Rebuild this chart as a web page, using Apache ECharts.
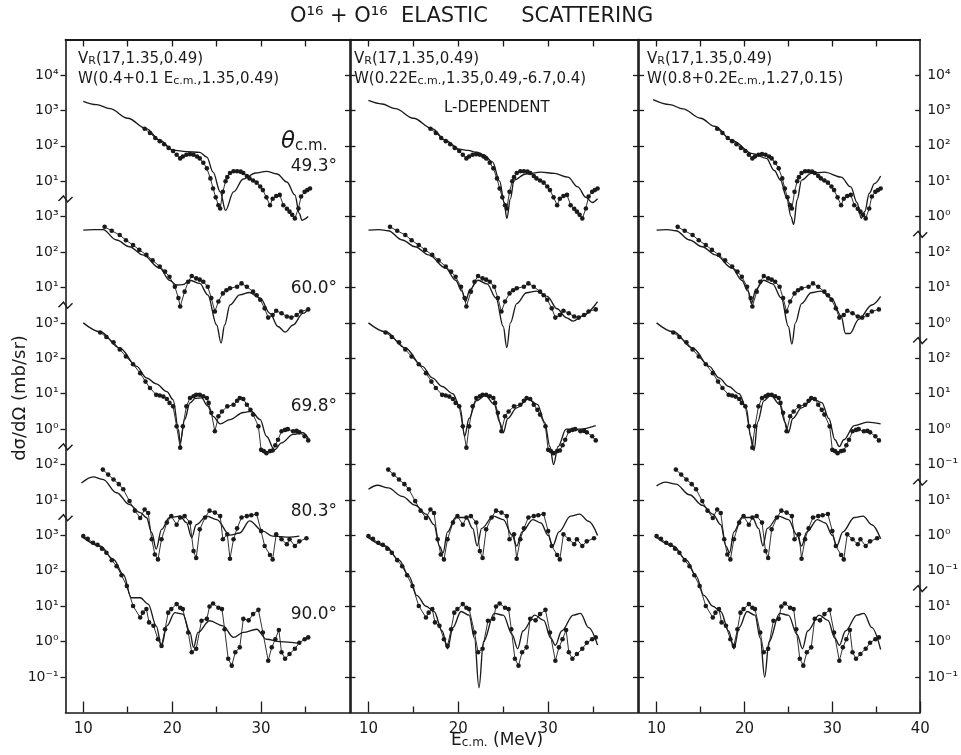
<!DOCTYPE html>
<html><head><meta charset="utf-8">
<script src="https://cdn.jsdelivr.net/npm/echarts@6/dist/echarts.min.js"></script>
<style>html,body{margin:0;padding:0;background:#fff}#c{width:961px;height:755px}</style>
</head><body><div id="c"></div>
<script>
// ---------- DATA (E c.m. in MeV, dsigma/dOmega in mb/sr, left-axis scale) ----------
const angleLabels = ['49.3°', '60.0°', '69.8°', '80.3°', '90.0°'];
const xMajorTicks = [10, 20, 30];
const xMinorTicks = [15, 25, 35];
const xMajorTicksLast = [10, 20, 30, 40];
const xTopTicks = [10, 15, 20, 25, 30, 35];
// y tick labels, top to bottom (one per decade line)
const leftTickLabels  = ['10⁴','10³','10²','10¹','10³','10²','10¹','10³','10²','10¹','10⁰','10²','10¹','10³','10²','10¹','10⁰','10⁻¹'];
const rightTickLabels = ['10⁴','10³','10²','10¹','10⁰','10²','10¹','10⁰','10²','10¹','10⁰','10⁻¹','10¹','10⁰','10⁻¹','10¹','10⁰','10⁻¹'];

// experimental data (same in all three panels)
const exp49 = [[16.9,302],[17.5,229],[18.1,166],[18.6,135],[19.1,110],[19.6,87],[20.1,71],[20.5,56],[20.9,44],[21.2,50],[21.6,56],[22.0,58],[22.4,56],[22.8,50],[23.1,44],[23.5,33],[23.9,23],[24.3,12],[24.6,6.2],[24.9,3.5],[25.2,2.1],[25.4,1.7],[25.7,5.0],[26.0,10],[26.2,13],[26.5,17],[26.9,19],[27.3,19],[27.7,18.6],[28.0,17],[28.4,14],[28.7,12],[29.1,10.5],[29.5,9.1],[29.9,7.1],[30.2,5.6],[30.6,3.5],[31.0,2.1],[31.3,3.2],[31.7,3.8],[32.1,4.1],[32.5,2.1],[32.9,1.66],[33.2,1.38],[33.5,1.12],[33.8,0.89],[34.2,1.7],[34.5,3.7],[34.9,5.0],[35.2,5.6],[35.5,6.2]];
const exp60 = [[12.4,513],[13.2,398],[14.1,302],[14.8,214],[15.6,158],[16.3,115],[17.1,83],[17.8,58],[18.6,39],[19.2,28],[19.7,20],[20.3,10.5],[20.7,5.0],[20.9,2.9],[21.4,7.6],[21.8,14.5],[22.2,21],[22.7,18],[23.1,16.6],[23.5,14.5],[24.0,10.5],[24.4,5.0],[24.8,2.1],[25.2,4.0],[25.7,6.8],[26.1,8.3],[26.5,9.5],[27.3,10.5],[27.8,13],[28.4,10.5],[29.1,7.6],[29.5,6.0],[29.9,4.5],[30.4,2.57],[30.8,1.41],[31.3,1.66],[31.7,2.2],[32.3,1.86],[32.9,1.51],[33.4,1.41],[34.0,1.66],[34.5,2.1],[35.3,2.4]];
const exp70 = [[11.9,537],[12.6,398],[13.4,282],[14.1,178],[14.8,112],[15.6,68],[16.4,38],[17.0,22],[17.5,14.5],[18.2,9.3],[18.6,8.9],[19.0,8.3],[19.4,7.1],[19.7,5.5],[20.1,4.4],[20.5,1.2],[20.9,0.3],[21.2,1.2],[21.6,4.4],[22.0,7.6],[22.4,8.5],[22.7,9.3],[23.1,9.3],[23.5,8.5],[23.9,7.6],[24.1,5.5],[24.4,2.9],[24.8,0.87],[25.2,2.3],[25.6,3.16],[26.2,4.4],[26.9,4.9],[27.3,6.3],[27.6,7.6],[28.0,7.1],[28.4,4.9],[28.8,3.5],[29.1,2.57],[29.7,1.2],[30.0,0.26],[30.3,0.24],[30.6,0.21],[31.0,0.24],[31.3,0.25],[31.6,0.35],[31.9,0.5],[32.3,0.87],[32.7,0.95],[33.0,1.0],[33.6,0.87],[34.0,0.89],[34.3,0.81],[34.9,0.63],[35.3,0.48]];
const exp80 = [[12.2,72],[12.8,52],[13.4,38],[14.0,28],[14.5,20],[15.2,9.3],[15.8,5.0],[16.4,3.1],[16.9,5.4],[17.3,4.3],[17.7,0.78],[18.05,0.29],[18.4,0.21],[18.8,0.78],[19.4,2.3],[19.9,3.5],[20.5,2.0],[20.9,3.2],[21.4,3.5],[22.0,2.3],[22.4,0.36],[22.7,0.23],[23.1,1.48],[23.7,3.2],[24.2,5.0],[24.8,4.4],[25.4,3.5],[25.7,0.78],[26.2,1.07],[26.5,0.22],[26.9,0.78],[27.3,1.58],[27.8,3.2],[28.4,3.5],[28.9,3.7],[29.5,4.0],[30.0,1.32],[30.4,0.5],[31.0,0.28],[31.3,0.21],[31.7,1.07],[32.3,0.78],[32.9,0.56],[33.2,0.78],[33.8,0.5],[34.3,0.68],[35.1,0.83]];
const exp90 = [[10.0,955],[10.5,800],[11.1,617],[11.6,540],[12.1,420],[12.6,324],[13.2,200],[13.75,135],[14.3,75],[14.9,37],[15.6,10.2],[16.4,4.8],[16.7,6.6],[17.1,8.3],[17.4,3.5],[17.9,2.8],[18.4,1.17],[18.8,0.76],[19.2,2.24],[19.55,6.6],[19.9,8.3],[20.5,11.5],[20.9,9.1],[21.2,8.3],[21.8,1.82],[22.2,0.5],[22.7,0.63],[23.3,3.9],[23.9,4.4],[24.2,9.8],[24.6,12],[25.2,9.1],[25.6,8.3],[25.9,2.24],[26.3,0.33],[26.7,0.21],[27.1,0.5],[27.6,0.69],[28.0,4.4],[28.6,4.0],[29.1,6.0],[29.7,7.9],[30.2,1.82],[30.8,0.29],[31.2,0.69],[31.6,1.17],[32.0,2.14],[32.3,0.5],[32.7,0.33],[33.2,0.45],[33.8,0.63],[34.3,0.93],[34.9,1.17],[35.3,1.32]];

// optical-model curves, panel 1
const th1_49 = [[10,1800],[11.5,1450],[13,1120],[15,600],[17.1,302],[18.6,143],[20.1,75],[21.6,68],[23.1,65],[23.9,48],[24.6,18],[25.4,5.0],[26.0,1.5],[26.9,5.0],[28.0,11.5],[29.4,17],[30.6,19],[31.8,16],[32.9,9.5],[33.8,4.1],[34.3,1.23],[34.6,0.79],[35.3,1.0]];
const th1_60 = [[10,417],[11.2,430],[12.2,427],[13.75,219],[15.2,141],[16.7,83],[18.6,35],[19.7,16],[20.5,11.7],[21.2,12],[22.0,16],[23.1,13],[24.0,6.2],[25.0,0.87],[25.5,0.27],[25.9,0.87],[26.5,3.2],[27.6,6.2],[28.7,7.2],[29.9,5.0],[31.0,1.86],[31.9,0.79],[32.7,0.55],[33.6,0.87],[34.7,1.86],[35.4,2.57]];
const th1_70 = [[10,1000],[11.9,562],[14.1,195],[16.0,59],[17.1,28],[18.2,19],[19.4,11.5],[20.1,6.8],[20.7,0.98],[20.9,0.41],[21.4,1.86],[22.0,5.5],[22.6,7.4],[23.3,7.6],[24.0,4.5],[24.6,2.3],[25.4,1.41],[26.5,1.86],[28.0,2.95],[28.9,3.16],[29.9,1.86],[30.6,0.63],[31.5,0.26],[32.3,0.41],[33.6,0.71],[34.7,0.79],[35.3,0.56]];
const th1_80 = [[9.8,30],[11.1,45],[12.2,38],[13.75,16],[15.2,7.4],[16.4,4.4],[17.1,3.2],[17.7,1.2],[18.2,0.41],[18.8,1.48],[19.7,3.2],[20.9,3.5],[21.6,2.3],[22.2,0.87],[22.7,2.0],[23.9,3.5],[25.0,2.8],[26.5,1.02],[27.6,1.17],[28.7,2.57],[30.2,1.32],[31.3,0.95],[33.2,0.89],[34.3,0.95]];
const th1_90 = [[9.8,955],[11.9,501],[13.4,209],[14.5,79],[15.4,17.4],[16.4,17.4],[17.3,11.5],[18.2,2.8],[18.8,0.76],[19.4,2.8],[20.3,6.6],[21.2,6.0],[22.0,1.82],[22.4,0.69],[22.9,1.82],[24.2,3.9],[25.7,2.8],[26.9,1.32],[28.0,1.82],[29.5,2.24],[30.6,1.17],[32.1,1.0],[34.3,0.89]];
// panel 2 (L-dependent)
const th2_49 = [[10,1900],[11.5,1510],[13,1120],[15,600],[17.1,302],[18.6,141],[20.1,80],[21.1,74],[22.0,66],[22.8,56],[23.8,35],[24.6,10],[25.1,2.5],[25.4,0.89],[25.8,3.2],[26.2,10.7],[27.5,16],[29.2,18],[30.7,16.6],[32.2,13],[33.3,6.9],[34.2,3.5],[34.9,2.5],[35.5,3.2]];
const th2_60 = [[10,417],[11.2,430],[12.2,400],[13.75,219],[15.2,141],[16.7,83],[18.6,35],[19.7,16],[20.4,7.9],[20.8,4.0],[21.3,8.9],[22.2,16],[23.2,12.6],[24.2,5.0],[25.0,0.79],[25.4,0.2],[25.8,1.0],[26.5,3.5],[27.6,7.1],[28.7,7.9],[29.9,5.6],[31.0,2.5],[32.0,1.41],[32.8,1.12],[33.8,1.58],[35.5,4.0]];
const th2_70 = [[10,1000],[11.9,562],[14.1,195],[16,59],[17.1,28],[18.2,16],[19.4,10],[20.2,4.0],[20.7,0.63],[21.2,2.0],[22,6.3],[23,8.9],[24,5.0],[24.6,1.58],[25,0.79],[25.5,2.0],[26.5,4.0],[27.8,7.1],[28.8,5.0],[29.6,1.58],[30.2,0.32],[30.6,0.1],[31.1,0.32],[32,1.0],[33.5,1.0],[35.3,1.26]];
const th2_80 = [[10,20],[11,26],[12.2,22],[13.75,12.6],[15.2,7.1],[16.4,4.0],[17.3,2.0],[17.9,0.5],[18.3,0.32],[18.8,1.26],[19.7,3.2],[20.9,3.2],[21.6,1.58],[22.1,0.5],[22.6,1.58],[23.9,3.5],[25,2.8],[26,1.0],[26.5,0.5],[27.1,1.26],[28.3,2.8],[29.2,2.24],[30,1.0],[30.5,0.5],[31.2,1.26],[32.5,3.5],[33.5,4.0],[34.5,2.5],[35.5,1.0]];
const th2_90 = [[9.8,955],[11.9,501],[13.4,200],[14.5,71],[15.4,20],[16.4,10],[17.3,7.1],[18.2,2.0],[18.8,0.63],[19.4,2.5],[20.3,7.1],[21.2,5.6],[21.8,1.26],[22.3,0.05],[22.8,1.0],[24,6.3],[25,5.6],[26,1.58],[26.6,0.63],[27.2,2.0],[28.5,5.6],[29.5,4.0],[30.3,1.26],[30.8,0.79],[31.5,2.0],[32.8,5.6],[33.6,6.3],[34.5,2.5],[35.5,0.8]];
// panel 3
const th3_49 = [[9.6,2000],[11.5,1450],[13,1100],[15,600],[16.6,355],[18.6,141],[20.9,60],[22.5,44],[23.4,20],[24.1,10.7],[24.8,3.5],[25.3,1.0],[25.6,0.6],[26.0,3.0],[26.5,10.7],[27.6,16.6],[29.1,18],[31.0,13],[32.1,6.9],[32.8,2.5],[33.3,0.9],[33.7,1.4],[34.2,4.5],[34.8,8.5],[35.5,14]];
const th3_60 = [[10,417],[11.2,430],[12.2,400],[13.75,219],[15.2,141],[16.7,83],[18.6,35],[19.7,16],[20.4,7.9],[20.8,3.5],[21.3,8.9],[22.2,16],[23.2,12.6],[24.2,5.0],[25.0,0.79],[25.4,0.25],[25.8,1.0],[26.5,3.5],[27.6,7.1],[28.7,7.9],[29.9,5.0],[31.0,1.58],[31.5,0.5],[32.0,0.5],[33,1.26],[34.5,3.2],[35.5,5.6]];
const th3_70 = [[10,1000],[11.9,562],[14.1,195],[16,59],[17.1,28],[18.2,16],[19.4,10],[20.2,4.0],[20.7,0.63],[21.1,0.25],[21.5,1.58],[22.2,6.3],[23,8.9],[24,5.0],[24.6,1.58],[25,0.79],[25.5,2.0],[26.5,4.0],[27.8,7.1],[28.8,5.6],[29.6,2.0],[30.3,0.5],[30.8,0.32],[31.3,0.5],[32.5,1.26],[34,1.58],[35.5,1.41]];
const th3_80 = [[10,25],[11,32],[12.2,28],[13.75,14],[15.2,7.1],[16.4,4.0],[17.3,2.0],[17.9,0.5],[18.3,0.32],[18.8,1.26],[19.7,3.2],[20.9,3.2],[21.6,1.58],[22.1,0.5],[22.6,1.58],[23.9,3.5],[25,2.8],[26,1.0],[26.5,0.5],[27.1,1.26],[28.3,2.8],[29.2,2.24],[30,1.0],[30.5,0.5],[31.2,1.26],[32.5,3.2],[33.5,3.5],[34.5,2.0],[35.5,0.8]];
const th3_90 = [[9.8,955],[11.9,501],[13.4,200],[14.5,71],[15.4,20],[16.4,10],[17.3,7.1],[18.2,2.0],[18.8,0.63],[19.4,2.5],[20.3,7.1],[21.2,5.6],[21.8,1.26],[22.3,0.1],[22.8,1.0],[24,6.3],[25,5.6],[26,1.58],[26.6,0.63],[27.2,2.0],[28.5,5.6],[29.5,4.0],[30.3,1.26],[30.8,0.79],[31.5,2.0],[32.8,5.6],[33.6,6.3],[34.5,2.5],[35.5,0.6]];

// ---------- LAYOUT ----------
const FONT = 'DejaVu Sans';
const INK = '#1a1a1a';
const stackShift = [14, 11, 8, 5, 2];        // decades each angle is shifted up
const expSets = [exp49, exp60, exp70, exp80, exp90];
const panels = [
  { left: 65.5, right: 350, theory: [th1_49, th1_60, th1_70, th1_80, th1_90] },
  { left: 350.5, right: 638, theory: [th2_49, th2_60, th2_70, th2_80, th2_90] },
  { left: 639, right: 927, theory: [th3_49, th3_60, th3_70, th3_80, th3_90] }
];
const TOP = 39.5, HEIGHT = 673;
const yTickValues = [];
for (let e = 1; e <= 18; e++) yTickValues.push(Math.pow(10, e));
const labelFor = (arr) => (v) => arr[18 - Math.round(Math.log10(v))] || '';

const grid = [], xAxis = [], yAxis = [], series = [];
panels.forEach((P, p) => {
  grid.push({ left: P.left, top: TOP, width: P.right - P.left, height: HEIGHT, containLabel: false });
  const majors = p === 2 ? xMajorTicksLast : xMajorTicks;
  const common = { gridIndex: p, type: 'value', min: 8, max: 40, splitLine: { show: false } };
  xAxis.push(Object.assign({}, common, {
    position: 'bottom',
    axisLine: { show: true, lineStyle: { color: INK, width: 1.6 } },
    axisTick: { show: true, inside: true, length: 11, customValues: majors, lineStyle: { color: INK, width: 1.3 } },
    axisLabel: { show: true, customValues: majors, fontSize: 15, fontFamily: FONT, color: INK, margin: 9 }
  }));
  xAxis.push(Object.assign({}, common, {
    position: 'bottom',
    axisLine: { show: false },
    axisTick: { show: true, inside: true, length: 6, customValues: xMinorTicks, lineStyle: { color: INK, width: 1.3 } },
    axisLabel: { show: false }
  }));
  xAxis.push(Object.assign({}, common, {
    position: 'top',
    axisLine: { show: true, lineStyle: { color: INK, width: 1.8 } },
    axisTick: { show: true, inside: true, length: 7, customValues: xTopTicks, lineStyle: { color: INK, width: 1.3 } },
    axisLabel: { show: false }
  }));
  const yCommon = { gridIndex: p, type: 'log', logBase: 10, min: 1, max: 1e19, splitNumber: 19,
    splitLine: { show: false }, minorTick: { show: false }, minorSplitLine: { show: false } };
  yAxis.push(Object.assign({}, yCommon, {
    position: 'left',
    axisLine: { show: true, lineStyle: { color: INK, width: 1.6 } },
    axisTick: { show: true, inside: p !== 0, length: 5, customValues: yTickValues, lineStyle: { color: INK, width: 1.3 } },
    axisLabel: { show: p === 0, customValues: yTickValues, formatter: labelFor(leftTickLabels),
      fontSize: 14, fontFamily: FONT, color: INK, margin: 7 }
  }));
  yAxis.push(Object.assign({}, yCommon, {
    position: 'right',
    axisLine: { show: true, lineStyle: { color: INK, width: 1.6 } },
    axisTick: { show: true, inside: true, length: 5, customValues: yTickValues, lineStyle: { color: INK, width: 1.3 } },
    axisLabel: { show: p === 2, customValues: yTickValues, formatter: labelFor(rightTickLabels),
      fontSize: 14, fontFamily: FONT, color: INK, margin: 7 }
  }));
  for (let k = 0; k < 5; k++) {
    const shift = Math.pow(10, stackShift[k]);
    series.push({
      type: 'line', name: 'data ' + angleLabels[k], xAxisIndex: p * 3, yAxisIndex: p * 2,
      data: expSets[k].map(([e, v]) => [e, v * shift]),
      symbol: 'circle', symbolSize: 4.6, showSymbol: true, showAllSymbol: true,
      lineStyle: { color: INK, width: 0.9 }, itemStyle: { color: INK }, silent: true
    });
    series.push({
      type: 'line', name: 'model ' + angleLabels[k], xAxisIndex: p * 3, yAxisIndex: p * 2,
      data: P.theory[k].map(([e, v]) => [e, v * shift]),
      showSymbol: false, smooth: 0.35, smoothMonotone: 'x',
      lineStyle: { color: INK, width: 1.35 }, silent: true
    });
  }
});

const base = { fontFamily: FONT, color: INK, fontWeight: 'normal' };
const rich = {
  n: Object.assign({ fontSize: 15, lineHeight: 20, verticalAlign: 'bottom' }, base),
  s: Object.assign({ fontSize: 11, lineHeight: 8, verticalAlign: 'bottom' }, base),
  x: Object.assign({ fontSize: 17, lineHeight: 20, verticalAlign: 'bottom' }, base),
  xs: Object.assign({ fontSize: 12, lineHeight: 8, verticalAlign: 'bottom' }, base),
  t: Object.assign({ fontSize: 23, fontStyle: 'italic', lineHeight: 26, verticalAlign: 'bottom' }, base),
  c: Object.assign({ fontSize: 15, lineHeight: 12, verticalAlign: 'bottom' }, base)
};
const txt = (text, left, top) => ({ text, left, top, padding: 0,
  textStyle: Object.assign({ rich, fontSize: 15 }, base) });
const titles = [
  { text: 'O¹⁶ + O¹⁶  ELASTIC     SCATTERING', left: 290, top: 5, padding: 0,
    textStyle: Object.assign({ fontSize: 21, lineHeight: 24 }, base) },
  txt('{n|V}{s|R}{n|(17,1.35,0.49)}', 78, 47),
  txt('{n|W(0.4+0.1 E}{s|c.m.}{n|,1.35,0.49)}', 78, 67),
  txt('{n|V}{s|R}{n|(17,1.35,0.49)}', 354, 47),
  txt('{n|W(0.22E}{s|c.m.}{n|,1.35,0.49,-6.7,0.4)}', 354, 67),
  txt('{n|L-DEPENDENT}', 444, 96),
  txt('{n|V}{s|R}{n|(17,1.35,0.49)}', 647, 47),
  txt('{n|W(0.8+0.2E}{s|c.m.}{n|,1.27,0.15)}', 647, 67),
  txt('{t|θ}{c|c.m.}', 281, 128),
  txt('{x|E}{xs|c.m.}{x| (MeV)}', 451, 729)
];
const angleTops = [157, 279, 397, 502, 605];
angleLabels.forEach((a, k) => {
  titles.push({ text: a, right: 624, top: angleTops[k], padding: 0,
    textStyle: Object.assign({ fontSize: 17, lineHeight: 20 }, base) });
});

const chart = echarts.init(document.getElementById('c'), null, { renderer: 'canvas' });
chart.setOption({
  backgroundColor: '#ffffff',
  animation: false,
  title: titles,
  grid, xAxis, yAxis, series
});

// decorations: y-axis name and axis-break marks
const leftBreakExp = [14.5, 11.5, 7.5, 5.5];
const rightBreakExp = [13.5, 10.5, 6.5, 3.5];
const xL = chart.convertToPixel({ xAxisIndex: 0 }, 8);
const xR = chart.convertToPixel({ xAxisIndex: 6 }, 40);
const zig = (x, y) => ({ type: 'polyline', z: 100,
  shape: { points: [[x - 7, y + 2], [x - 2, y - 3], [x + 2, y + 3], [x + 7, y - 2]] },
  style: { stroke: INK, lineWidth: 1.4, fill: null } });
const graphics = [];
leftBreakExp.forEach(e => graphics.push(zig(xL, chart.convertToPixel({ yAxisIndex: 0 }, Math.pow(10, e)))));
rightBreakExp.forEach(e => graphics.push(zig(xR, chart.convertToPixel({ yAxisIndex: 5 }, Math.pow(10, e)))));
graphics.push({ type: 'text', x: 20, y: 398, rotation: Math.PI / 2, z: 100,
  style: { text: 'dσ/dΩ (mb/sr)', fontSize: 18, fontFamily: FONT, fill: INK, align: 'center', verticalAlign: 'middle' } });
chart.setOption({ graphic: graphics });
</script>
</body></html>
